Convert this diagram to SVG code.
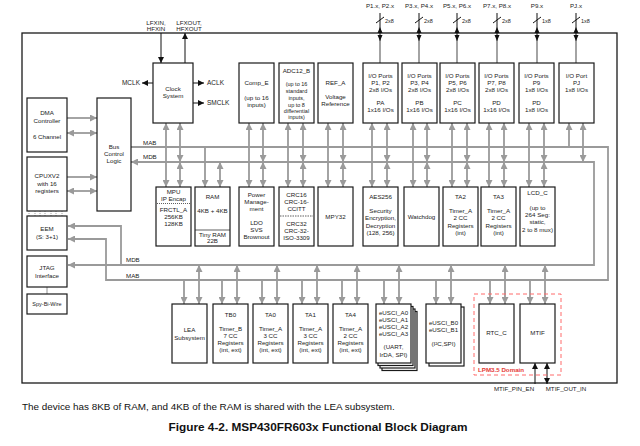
<svg xmlns="http://www.w3.org/2000/svg" width="640" height="446" viewBox="0 0 640 446">
<defs>
<marker id="ga" markerUnits="userSpaceOnUse" markerWidth="7" markerHeight="7" viewBox="0 0 7 7" refX="7" refY="3.5" orient="auto-start-reverse"><path d="M0,0 L7,3.5 L0,7 z" fill="#9a9a9a"/></marker>
<marker id="ba" markerUnits="userSpaceOnUse" markerWidth="6" markerHeight="6" viewBox="0 0 6 6" refX="6" refY="3" orient="auto-start-reverse"><path d="M0,0 L6,3 L0,6 z" fill="#111"/></marker>
</defs>
<style>
.bx{fill:#fff;stroke:#1a1a1a;stroke-width:1.2}
.t{font-family:"Liberation Sans",Arial,sans-serif;font-size:6.2px;fill:#222;text-anchor:middle}
.l{text-anchor:start}
.e{text-anchor:end}
.s{font-size:5.5px}
.g{stroke:#9a9a9a;stroke-width:1.8;fill:none}
.gs{marker-end:url(#ga)}
.gd{marker-start:url(#ga);marker-end:url(#ga)}
.k{stroke:#111;stroke-width:1;fill:none}
.ks{marker-end:url(#ba)}
.kd{marker-start:url(#ba);marker-end:url(#ba)}
.dv{stroke:#1a1a1a;stroke-width:0.7}
</style>
<rect width="640" height="446" fill="#fff"/>
<rect x="22" y="33" width="595" height="350" fill="none" stroke="#1a1a1a" stroke-width="1.3"/>

<g id="connectors">
<path class="g gs" d="M131,147 H608 V280 H106 V239 H68"/>
<path class="g gd" d="M131,162 H594 V265 H68"/>
<path class="g gs" d="M121,265 V226 H68"/>
<line class="g gs" x1="67" y1="118" x2="97" y2="118"/>
<line class="g gd" x1="67" y1="133" x2="97" y2="133"/>
<line class="g gs" x1="67" y1="177" x2="97" y2="177"/>
<line class="g gd" x1="67" y1="191" x2="97" y2="191"/>
<line class="g gs" x1="166" y1="147" x2="166" y2="123"/><line class="g gd" x1="180" y1="162" x2="180" y2="123"/>
<line class="g gs" x1="249" y1="147" x2="249" y2="123"/><line class="g gd" x1="263" y1="162" x2="263" y2="123"/>
<line class="g gs" x1="288" y1="147" x2="288" y2="123"/><line class="g gd" x1="303" y1="162" x2="303" y2="123"/>
<line class="g gs" x1="328" y1="147" x2="328" y2="123"/><line class="g gd" x1="343" y1="162" x2="343" y2="123"/>
<line class="g gs" x1="372" y1="147" x2="372" y2="123"/><line class="g gd" x1="387" y1="162" x2="387" y2="123"/>
<line class="g gs" x1="413" y1="147" x2="413" y2="123"/><line class="g gd" x1="427" y1="162" x2="427" y2="123"/>
<line class="g gs" x1="452" y1="147" x2="452" y2="123"/><line class="g gd" x1="467" y1="162" x2="467" y2="123"/>
<line class="g gs" x1="489" y1="147" x2="489" y2="123"/><line class="g gd" x1="504" y1="162" x2="504" y2="123"/>
<line class="g gs" x1="529" y1="147" x2="529" y2="123"/><line class="g gd" x1="544" y1="162" x2="544" y2="123"/>
<line class="g gs" x1="569" y1="147" x2="569" y2="123"/><line class="g gd" x1="583" y1="162" x2="583" y2="123"/>
<line class="g gs" x1="166" y1="147" x2="166" y2="187"/><line class="g gd" x1="180" y1="162" x2="180" y2="187"/>
<line class="g gs" x1="205" y1="147" x2="205" y2="187"/><line class="g gd" x1="220" y1="162" x2="220" y2="187"/>
<line class="g gs" x1="249" y1="147" x2="249" y2="187"/><line class="g gd" x1="263" y1="162" x2="263" y2="187"/>
<line class="g gs" x1="288" y1="147" x2="288" y2="187"/><line class="g gd" x1="303" y1="162" x2="303" y2="187"/>
<line class="g gs" x1="328" y1="147" x2="328" y2="187"/><line class="g gd" x1="343" y1="162" x2="343" y2="187"/>
<line class="g gs" x1="372" y1="147" x2="372" y2="187"/><line class="g gd" x1="387" y1="162" x2="387" y2="187"/>
<line class="g gs" x1="413" y1="147" x2="413" y2="187"/><line class="g gd" x1="427" y1="162" x2="427" y2="187"/>
<line class="g gs" x1="452" y1="147" x2="452" y2="187"/><line class="g gd" x1="467" y1="162" x2="467" y2="187"/>
<line class="g gs" x1="489" y1="147" x2="489" y2="187"/><line class="g gd" x1="504" y1="162" x2="504" y2="187"/>
<line class="g gs" x1="529" y1="147" x2="529" y2="187"/><line class="g gd" x1="544" y1="162" x2="544" y2="187"/>
<line class="g gs" x1="184" y1="280" x2="184" y2="304"/><line class="g gd" x1="199" y1="265" x2="199" y2="304"/>
<line class="g gs" x1="222" y1="280" x2="222" y2="304"/><line class="g gd" x1="237" y1="265" x2="237" y2="304"/>
<line class="g gs" x1="262" y1="280" x2="262" y2="304"/><line class="g gd" x1="277" y1="265" x2="277" y2="304"/>
<line class="g gs" x1="302" y1="280" x2="302" y2="304"/><line class="g gd" x1="317" y1="265" x2="317" y2="304"/>
<line class="g gs" x1="342" y1="280" x2="342" y2="304"/><line class="g gd" x1="357" y1="265" x2="357" y2="304"/>
<line class="g gs" x1="384" y1="280" x2="384" y2="304"/><line class="g gd" x1="399" y1="265" x2="399" y2="304"/>
<line class="g gs" x1="436" y1="280" x2="436" y2="304"/><line class="g gd" x1="451" y1="265" x2="451" y2="304"/>
<line class="g gs" x1="490" y1="280" x2="490" y2="304"/><line class="g gd" x1="505" y1="265" x2="505" y2="304"/>
<line class="g gs" x1="530" y1="280" x2="530" y2="304"/><line class="g gd" x1="545" y1="265" x2="545" y2="304"/>
<line class="k ks" x1="161" y1="33" x2="161" y2="63"/>
<line class="k ks" x1="185" y1="63" x2="185" y2="33"/>
<line class="k ks" x1="153" y1="83" x2="142" y2="83"/>
<line class="k ks" x1="193" y1="83" x2="204" y2="83"/>
<line class="k ks" x1="193" y1="103" x2="204" y2="103"/>
<g id="pins">
<line class="k" x1="380" y1="13" x2="380" y2="41"/><line class="g" x1="380" y1="41" x2="380" y2="63" stroke-width="1.5"/><path d="M377.5,33 L382.5,33 L380,27 z M377.5,35 L382.5,35 L380,41 z" fill="#111"/><line class="k" x1="376" y1="23" x2="384" y2="17" stroke-width="0.7"/>
<line class="k" x1="419" y1="13" x2="419" y2="41"/><line class="g" x1="419" y1="41" x2="419" y2="63" stroke-width="1.5"/><path d="M416.5,33 L421.5,33 L419,27 z M416.5,35 L421.5,35 L419,41 z" fill="#111"/><line class="k" x1="415" y1="23" x2="423" y2="17" stroke-width="0.7"/>
<line class="k" x1="457" y1="13" x2="457" y2="41"/><line class="g" x1="457" y1="41" x2="457" y2="63" stroke-width="1.5"/><path d="M454.5,33 L459.5,33 L457,27 z M454.5,35 L459.5,35 L457,41 z" fill="#111"/><line class="k" x1="453" y1="23" x2="461" y2="17" stroke-width="0.7"/>
<line class="k" x1="497" y1="13" x2="497" y2="41"/><line class="g" x1="497" y1="41" x2="497" y2="63" stroke-width="1.5"/><path d="M494.5,33 L499.5,33 L497,27 z M494.5,35 L499.5,35 L497,41 z" fill="#111"/><line class="k" x1="493" y1="23" x2="501" y2="17" stroke-width="0.7"/>
<line class="k" x1="537" y1="13" x2="537" y2="41"/><line class="g" x1="537" y1="41" x2="537" y2="63" stroke-width="1.5"/><path d="M534.5,33 L539.5,33 L537,27 z M534.5,35 L539.5,35 L537,41 z" fill="#111"/><line class="k" x1="533" y1="23" x2="541" y2="17" stroke-width="0.7"/>
<line class="k" x1="576" y1="13" x2="576" y2="41"/><line class="g" x1="576" y1="41" x2="576" y2="63" stroke-width="1.5"/><path d="M573.5,33 L578.5,33 L576,27 z M573.5,35 L578.5,35 L576,41 z" fill="#111"/><line class="k" x1="572" y1="23" x2="580" y2="17" stroke-width="0.7"/>
</g>
<line class="k ks" x1="535" y1="384" x2="535" y2="363"/>
<line class="k kd" x1="547" y1="384" x2="547" y2="363"/>
<g stroke="#666" stroke-width="0.6" stroke-dasharray="1,1">
<line x1="29" y1="211" x2="29" y2="216"/><line x1="35" y1="211" x2="35" y2="216"/><line x1="40" y1="211" x2="40" y2="216"/><line x1="45" y1="211" x2="45" y2="216"/><line x1="51" y1="211" x2="51" y2="216"/><line x1="56" y1="211" x2="56" y2="216"/><line x1="62" y1="211" x2="62" y2="216"/>
</g>
<line x1="47" y1="287" x2="47" y2="294" stroke="#666" stroke-width="0.7"/>
</g>

<g id="labels">
<text class="t" x="156" y="25">LFXIN,</text><text class="t" x="156" y="31">HFXIN</text>
<text class="t" x="189" y="25">LFXOUT,</text><text class="t" x="189" y="31">HFXOUT</text>
<text class="t e" x="140" y="85" style="font-size:6.5px">MCLK</text>
<text class="t l" x="207" y="85" style="font-size:6.5px">ACLK</text>
<text class="t l" x="207" y="105" style="font-size:6.5px">SMCLK</text>
<text class="t l" x="143" y="144.5">MAB</text>
<text class="t l" x="143" y="159">MDB</text>
<text class="t l" x="126" y="261.5">MDB</text>
<text class="t l" x="126" y="277.5">MAB</text>
<text class="t" x="380" y="8">P1.x, P2.x</text><text class="t l s" x="385" y="23">2x8</text>
<text class="t" x="419" y="8">P3.x, P4.x</text><text class="t l s" x="424" y="23">2x8</text>
<text class="t" x="457" y="8">P5.x, P6.x</text><text class="t l s" x="462" y="23">2x8</text>
<text class="t" x="497" y="8">P7.x, P8.x</text><text class="t l s" x="502" y="23">2x8</text>
<text class="t" x="537" y="8">P9.x</text><text class="t l s" x="542" y="23">1x8</text>
<text class="t" x="576" y="8">PJ.x</text><text class="t l s" x="581" y="23">1x8</text>
<text class="t" x="514" y="391">MTIF_PIN_EN</text>
<text class="t" x="566" y="391">MTIF_OUT_IN</text>
</g>

<g id="dma"><rect class="bx" x="27" y="98" width="40" height="54"/><text class="t" x="47" y="115">DMA</text><text class="t" x="47" y="123">Controller</text><text class="t" x="47" y="139">6 Channel</text></g>
<g id="bus_control"><rect class="bx" x="97" y="98" width="34" height="113"/><text class="t" x="114" y="149">Bus</text><text class="t" x="114" y="156">Control</text><text class="t" x="114" y="163">Logic</text></g>
<g id="cpu"><rect class="bx" x="27" y="157" width="40" height="54"/><text class="t" x="47" y="178">CPUXV2</text><text class="t" x="47" y="186">with 16</text><text class="t" x="47" y="193">registers</text></g>
<g id="eem"><rect class="bx" x="27" y="216" width="40" height="34"/><text class="t" x="47" y="231">EEM</text><text class="t" x="47" y="239">(S: 3+1)</text></g>
<g id="jtag"><rect class="bx" x="27" y="256" width="40" height="31"/><text class="t" x="47" y="270">JTAG</text><text class="t" x="47" y="278">Interface</text></g>
<g id="sbw"><rect class="bx" x="27" y="294" width="40" height="20"/><text class="t s" x="47" y="306">Spy-Bi-Wire</text></g>

<g id="clock"><rect class="bx" x="153" y="63" width="40" height="60"/><text class="t" x="173" y="91">Clock</text><text class="t" x="173" y="98">System</text></g>
<g id="comp_e"><rect class="bx" x="239" y="63" width="35" height="60"/><text class="t" x="256.5" y="85">Comp_E</text><text class="t" x="256.5" y="100">(up to 16</text><text class="t" x="256.5" y="107">inputs)</text></g>
<g id="adc"><rect class="bx" x="279" y="63" width="35" height="60"/><text class="t" x="296.5" y="73">ADC12_B</text><text class="t s" x="296.5" y="86">(up to 16</text><text class="t s" x="296.5" y="93">standard</text><text class="t s" x="296.5" y="100">inputs,</text><text class="t s" x="296.5" y="107">up to 8</text><text class="t s" x="296.5" y="113">differential</text><text class="t s" x="296.5" y="119">inputs)</text></g>
<g id="ref_a"><rect class="bx" x="318" y="63" width="35" height="60"/><text class="t" x="335.5" y="85">REF_A</text><text class="t" x="335.5" y="99">Voltage</text><text class="t" x="335.5" y="106">Reference</text></g>
<g id="io_p12"><rect class="bx" x="363" y="63" width="35" height="60"/><text class="t" x="380.5" y="78">I/O Ports</text><text class="t" x="380.5" y="85">P1, P2</text><text class="t" x="380.5" y="92">2x8 I/Os</text><text class="t" x="380.5" y="105">PA</text><text class="t" x="380.5" y="112">1x16 I/Os</text></g>
<g id="io_p34"><rect class="bx" x="402" y="63" width="35" height="60"/><text class="t" x="419.5" y="78">I/O Ports</text><text class="t" x="419.5" y="85">P3, P4</text><text class="t" x="419.5" y="92">2x8 I/Os</text><text class="t" x="419.5" y="105">PB</text><text class="t" x="419.5" y="112">1x16 I/Os</text></g>
<g id="io_p56"><rect class="bx" x="440" y="63" width="35" height="60"/><text class="t" x="457.5" y="78">I/O Ports</text><text class="t" x="457.5" y="85">P5, P6</text><text class="t" x="457.5" y="92">2x8 I/Os</text><text class="t" x="457.5" y="105">PC</text><text class="t" x="457.5" y="112">1x16 I/Os</text></g>
<g id="io_p78"><rect class="bx" x="479" y="63" width="35" height="60"/><text class="t" x="496.5" y="78">I/O Ports</text><text class="t" x="496.5" y="85">P7, P8</text><text class="t" x="496.5" y="92">2x8 I/Os</text><text class="t" x="496.5" y="105">PD</text><text class="t" x="496.5" y="112">1x16 I/Os</text></g>
<g id="io_p9"><rect class="bx" x="519" y="63" width="35" height="60"/><text class="t" x="536.5" y="78">I/O Ports</text><text class="t" x="536.5" y="85">P9</text><text class="t" x="536.5" y="92">1x8 I/Os</text><text class="t" x="536.5" y="105">PD</text><text class="t" x="536.5" y="112">1x8 I/Os</text></g>
<g id="io_pj"><rect class="bx" x="559" y="63" width="35" height="60"/><text class="t" x="576.5" y="78">I/O Port</text><text class="t" x="576.5" y="85">PJ</text><text class="t" x="576.5" y="92">1x8 I/Os</text></g>

<g id="mpu"><rect class="bx" x="156" y="187" width="35" height="59"/><text class="t" x="173.5" y="194">MPU</text><text class="t" x="173.5" y="201">IP Encap</text><line x1="157" y1="203.5" x2="190" y2="203.5" stroke="#1a1a1a" stroke-width="0.7" stroke-dasharray="1,1"/><text class="t" x="173.5" y="212">FRCTL_A</text><text class="t" x="173.5" y="219">256KB</text><text class="t" x="173.5" y="226">128KB</text></g>
<g id="ram"><rect class="bx" x="195" y="187" width="35" height="59"/><text class="t" x="212.5" y="199">RAM</text><text class="t" x="212.5" y="213">4KB + 4KB</text><line class="dv" x1="195" y1="230" x2="230" y2="230"/><text class="t" x="212.5" y="237">Tiny RAM</text><text class="t" x="212.5" y="243">22B</text></g>
<g id="pmm"><rect class="bx" x="239" y="187" width="35" height="59"/><text class="t" x="256.5" y="197">Power</text><text class="t" x="256.5" y="204">Manage-</text><text class="t" x="256.5" y="211">ment</text><text class="t" x="256.5" y="225">LDO</text><text class="t" x="256.5" y="232">SVS</text><text class="t" x="256.5" y="239">Brownout</text></g>
<g id="crc"><rect class="bx" x="279" y="187" width="35" height="59"/><text class="t" x="296.5" y="197">CRC16</text><text class="t" x="296.5" y="204">CRC-16-</text><text class="t" x="296.5" y="211">CCITT</text><line x1="280" y1="216" x2="313" y2="216" stroke="#1a1a1a" stroke-width="0.7" stroke-dasharray="1.5,1"/><text class="t" x="296.5" y="226">CRC32</text><text class="t" x="296.5" y="233">CRC-32-</text><text class="t" x="296.5" y="240">ISO-3309</text></g>
<g id="mpy32"><rect class="bx" x="318" y="187" width="35" height="59"/><text class="t" x="335.5" y="218.5">MPY32</text></g>
<g id="aes"><rect class="bx" x="363" y="187" width="35" height="59"/><text class="t" x="380.5" y="199">AES256</text><text class="t" x="380.5" y="213">Security</text><text class="t" x="380.5" y="220">Encryption,</text><text class="t" x="380.5" y="228">Decryption</text><text class="t" x="380.5" y="235">(128, 256)</text></g>
<g id="wdt"><rect class="bx" x="404" y="187" width="35" height="59"/><text class="t" x="421.5" y="218.5">Watchdog</text></g>
<g id="ta2"><rect class="bx" x="443" y="187" width="35" height="59"/><text class="t" x="460.5" y="199">TA2</text><text class="t" x="460.5" y="213">Timer_A</text><text class="t" x="460.5" y="220">2 CC</text><text class="t" x="460.5" y="228">Registers</text><text class="t" x="460.5" y="235">(int)</text></g>
<g id="ta3"><rect class="bx" x="481" y="187" width="35" height="59"/><text class="t" x="498.5" y="199">TA3</text><text class="t" x="498.5" y="213">Timer_A</text><text class="t" x="498.5" y="220">2 CC</text><text class="t" x="498.5" y="228">Registers</text><text class="t" x="498.5" y="235">(int)</text></g>
<g id="lcd"><rect class="bx" x="520" y="187" width="35" height="59"/><text class="t" x="537.5" y="195">LCD_C</text><text class="t" x="537.5" y="210">(up to</text><text class="t" x="537.5" y="217">264 Seg:</text><text class="t" x="537.5" y="224">static,</text><text class="t" x="537.5" y="232">2 to 8 mux)</text></g>

<g id="lea"><rect class="bx" x="172" y="304" width="35" height="59"/><text class="t" x="189.5" y="332">LEA</text><text class="t" x="189.5" y="340">Subsystem</text></g>
<g id="tb0"><rect class="bx" x="213" y="304" width="35" height="59"/><text class="t" x="230.5" y="317">TB0</text><text class="t" x="230.5" y="331">Timer_B</text><text class="t" x="230.5" y="338">7 CC</text><text class="t" x="230.5" y="345">Registers</text><text class="t" x="230.5" y="352">(int, ext)</text></g>
<g id="ta0"><rect class="bx" x="253" y="304" width="35" height="59"/><text class="t" x="270.5" y="317">TA0</text><text class="t" x="270.5" y="331">Timer_A</text><text class="t" x="270.5" y="338">3 CC</text><text class="t" x="270.5" y="345">Registers</text><text class="t" x="270.5" y="352">(int, ext)</text></g>
<g id="ta1"><rect class="bx" x="293" y="304" width="35" height="59"/><text class="t" x="310.5" y="317">TA1</text><text class="t" x="310.5" y="331">Timer_A</text><text class="t" x="310.5" y="338">3 CC</text><text class="t" x="310.5" y="345">Registers</text><text class="t" x="310.5" y="352">(int, ext)</text></g>
<g id="ta4"><rect class="bx" x="333" y="304" width="35" height="59"/><text class="t" x="350.5" y="317">TA4</text><text class="t" x="350.5" y="331">Timer_A</text><text class="t" x="350.5" y="338">2 CC</text><text class="t" x="350.5" y="345">Registers</text><text class="t" x="350.5" y="352">(int, ext)</text></g>
<g id="eusci_a"><rect class="bx" x="382" y="311.5" width="35" height="59"/><rect class="bx" x="380" y="309" width="35" height="59"/><rect class="bx" x="378" y="306.5" width="35" height="59"/><rect class="bx" x="376" y="304" width="35" height="59"/><text class="t" x="393.5" y="315">eUSCI_A0</text><text class="t" x="393.5" y="322">eUSCI_A1</text><text class="t" x="393.5" y="329">eUSCI_A2</text><text class="t" x="393.5" y="336">eUSCI_A3</text><text class="t" x="393.5" y="349">(UART,</text><text class="t" x="393.5" y="357">IrDA, SPI)</text></g>
<g id="eusci_b"><rect class="bx" x="429" y="307" width="35" height="59"/><rect class="bx" x="426" y="304" width="35" height="59"/><text class="t" x="443.5" y="325">eUSCI_B0</text><text class="t" x="443.5" y="332">eUSCI_B1</text><text class="t" x="443.5" y="346">(I²C,SPI)</text></g>
<g id="lpm35"><rect x="474" y="294" width="87" height="81" fill="none" stroke="#ff6b6b" stroke-width="1" stroke-dasharray="4,3"/><text class="t l" x="478" y="372" style="fill:#e53935;font-weight:bold">LPM3.5 Domain</text></g>
<g id="rtc"><rect class="bx" x="479" y="304" width="35" height="59"/><text class="t" x="496.5" y="335">RTC_C</text></g>
<g id="mtif"><rect class="bx" x="520" y="304" width="35" height="59"/><text class="t" x="537.5" y="335">MTIF</text></g>

<g id="caption">
<text x="22" y="409.5" style="font-family:'Liberation Sans',Arial,sans-serif;font-size:9.9px;fill:#111">The device has 8KB of RAM, and 4KB of the RAM is shared with the LEA subsystem.</text>
<text x="318" y="431" style="font-family:'Liberation Sans',Arial,sans-serif;font-size:11.8px;font-weight:bold;fill:#111;text-anchor:middle">Figure 4-2. MSP430FR603x Functional Block Diagram</text>
</g>
</svg>
